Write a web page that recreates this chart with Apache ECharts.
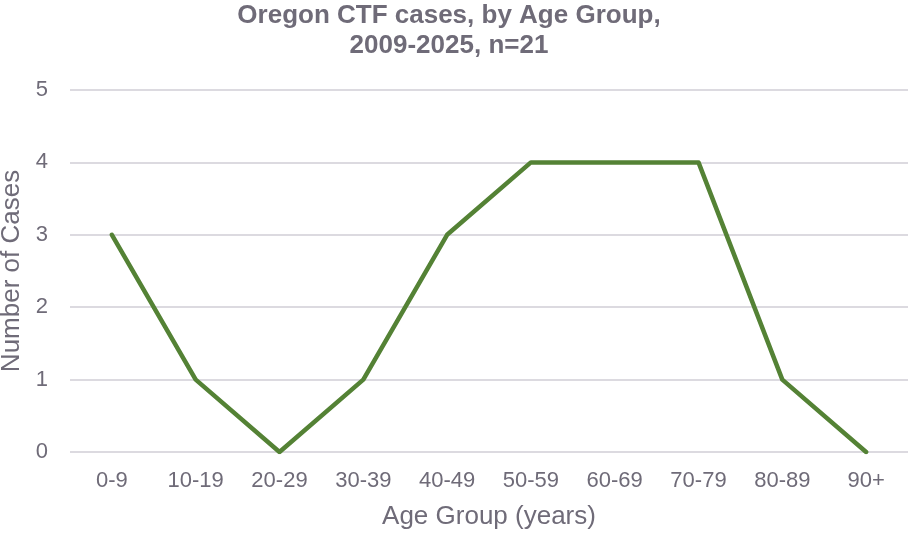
<!DOCTYPE html>
<html><head><meta charset="utf-8">
<script src="https://cdn.jsdelivr.net/npm/echarts@6/dist/echarts.min.js"></script>
<style>html,body{margin:0;padding:0;background:#fff}#c{width:911px;height:538px}</style>
</head><body><div id="c"></div>
<script>
const categories = ['0-9','10-19','20-29','30-39','40-49','50-59','60-69','70-79','80-89','90+'];
const cases = [3,1,0,1,3,4,4,4,1,0];
const yTicks = [0,1,2,3,4,5];
const textColor = '#6f6b78';
const chart = echarts.init(document.getElementById('c'));
chart.setOption({
  animation: false,
  title: {
    text: 'Oregon CTF cases, by Age Group,\n2009-2025, n=21',
    left: 449, textAlign: 'center', top: 1, padding: 0,
    textStyle: {fontFamily: 'Liberation Sans', fontWeight: 'bold', fontSize: 26, color: textColor, lineHeight: 30}
  },
  grid: {left: 70, right: 3, top: 90, bottom: 86, outerBoundsMode: 'none', containLabel: false},
  xAxis: {
    type: 'category', data: categories, boundaryGap: true,
    axisLine: {show: false}, axisTick: {show: false},
    axisLabel: {fontFamily: 'Liberation Sans', fontSize: 22, color: textColor, margin: 18},
    name: 'Age Group (years)', nameLocation: 'middle', nameGap: 52,
    nameTextStyle: {fontFamily: 'Liberation Sans', fontSize: 26, color: textColor}
  },
  yAxis: {
    type: 'value', min: yTicks[0], max: yTicks[yTicks.length-1], interval: 1,
    axisLine: {show: false}, axisTick: {show: false},
    axisLabel: {fontFamily: 'Liberation Sans', fontSize: 22, color: textColor, margin: 22},
    splitLine: {lineStyle: {color: '#dcdae0', width: 2}},
    name: 'Number of Cases', nameLocation: 'middle', nameGap: 44, nameRotate: 90,
    nameTextStyle: {fontFamily: 'Liberation Sans', fontSize: 26, color: textColor}
  },
  series: [{
    type: 'line', data: cases, symbol: 'none',
    lineStyle: {color: '#548235', width: 4.5, cap: 'round', join: 'round'}
  }]
});
</script></body></html>
